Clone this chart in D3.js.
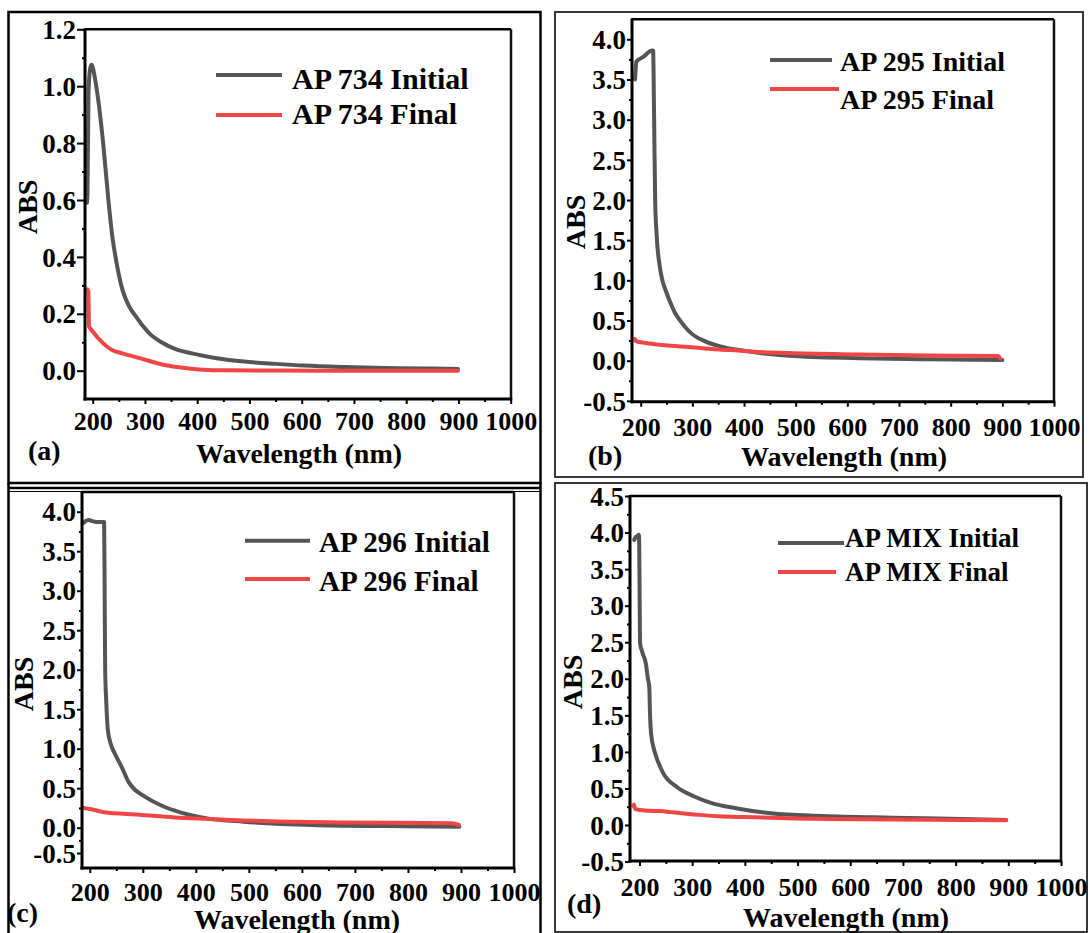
<!DOCTYPE html>
<html>
<head>
<meta charset="utf-8">
<script src="https://cdn.jsdelivr.net/npm/d3@7"></script>
<style>
  body { margin: 0; background: #fff; }
  svg { display: block; }
  text { font-family: "Liberation Serif", "Times New Roman", serif; font-weight: bold; fill: #000; }
</style>
</head>
<body>
<div id="container"></div>
<script>
/* DATA */
const xTicks = [200, 300, 400, 500, 600, 700, 800, 900, 1000]
const xMinorTicks = [250, 350, 450, 550, 650, 750, 850, 950]

const yTicksA = [0.0, 0.2, 0.4, 0.6, 0.8, 1.0, 1.2]
const yMinorA = [0.1, 0.3, 0.5, 0.7, 0.9, 1.1]
const yTicksB = [-0.5, 0.0, 0.5, 1.0, 1.5, 2.0, 2.5, 3.0, 3.5, 4.0]
const yMinorB = [-0.25, 0.25, 0.75, 1.25, 1.75, 2.25, 2.75, 3.25, 3.75]
const yTicksD = [-0.5, 0.0, 0.5, 1.0, 1.5, 2.0, 2.5, 3.0, 3.5, 4.0, 4.5]
const yMinorD = [-0.25, 0.25, 0.75, 1.25, 1.75, 2.25, 2.75, 3.25, 3.75, 4.25]

const panelLabels = ["(a)", "(b)", "(c)", "(d)"]
const namesA = ["AP 734 Initial", "AP 734 Final"]
const namesB = ["AP 295 Initial", "AP 295 Final"]
const namesC = ["AP 296 Initial", "AP 296 Final"]
const namesD = ["AP MIX Initial", "AP MIX Final"]

// [wavelength nm, absorbance]
const ap734Initial = [[189, 0.59], [190, 0.62], [192, 0.98], [195, 1.06], [198, 1.075], [201, 1.06],
  [205, 1.02], [210, 0.96], [220, 0.80], [230, 0.60], [237, 0.48], [247, 0.366], [257, 0.284],
  [270, 0.225], [285, 0.185], [297, 0.155], [312, 0.125], [330, 0.102], [360, 0.075], [390, 0.061],
  [437, 0.044], [490, 0.032], [550, 0.024], [605, 0.018], [680, 0.013], [759, 0.0095], [830, 0.008], [899, 0.006]]
const ap734Final = [[190, 0.286], [191.5, 0.28], [193, 0.155], [197, 0.145], [203, 0.131], [210, 0.115],
  [217, 0.102], [227, 0.085], [237, 0.073], [257, 0.061], [290, 0.044], [337, 0.02], [384, 0.008],
  [431, 0.002], [520, 0.001], [624, 0.0], [750, 0.0], [899, 0.0]]

const ap295Initial = [[189, 3.5], [190, 3.6], [191.5, 3.72], [205, 3.78], [222, 3.86], [224, 3.86],
  [226, 3.0], [228, 2.0], [231, 1.55], [237, 1.17], [242, 1.0], [248, 0.88], [258, 0.715], [266, 0.6],
  [275, 0.51], [286, 0.42], [298, 0.34], [325, 0.24], [366, 0.16], [400, 0.125], [440, 0.09],
  [487, 0.062], [623, 0.032], [758, 0.018], [900, 0.01]]
const ap295Final = [[189, 0.27], [190, 0.25], [192, 0.24], [200, 0.23], [224, 0.208], [285, 0.175],
  [352, 0.14], [400, 0.122], [419, 0.112], [487, 0.095], [623, 0.078], [758, 0.065], [892, 0.058], [896, 0.025]]

const ap296Initial = [[189, 3.86], [192, 3.88], [198, 3.895], [205, 3.88], [212, 3.87], [227, 3.87],
  [228, 3.0], [229, 2.0], [231, 1.6], [234, 1.24], [240, 1.05], [247, 0.94], [260, 0.77], [273, 0.58],
  [285, 0.48], [300, 0.41], [332, 0.29], [372, 0.19], [424, 0.115], [490, 0.076], [621, 0.034],
  [752, 0.02], [897, 0.013]]
const ap296Final = [[189, 0.25], [192, 0.245], [205, 0.23], [227, 0.195], [293, 0.165], [359, 0.13],
  [424, 0.11], [490, 0.092], [555, 0.08], [687, 0.066], [883, 0.056], [896, 0.035]]

const apMixInitial = [[190, 3.9], [192, 3.93], [195.5, 3.95], [199, 3.97], [200, 3.4], [201, 2.49],
  [206, 2.35], [212, 2.21], [216, 2.0], [218.5, 1.89], [220, 1.5], [222, 1.25], [227, 1.05], [232, 0.93],
  [245, 0.71], [271, 0.52], [304, 0.39], [337, 0.30], [383, 0.23], [449, 0.16], [547, 0.123],
  [679, 0.10], [811, 0.083], [896, 0.068]]
const apMixFinal = [[188, 0.26], [189.5, 0.28], [191, 0.225], [200, 0.205], [218, 0.195], [238, 0.19],
  [260, 0.176], [284, 0.158], [320, 0.135], [350, 0.12], [400, 0.108], [482, 0.092], [679, 0.075], [896, 0.065]]

/* CONSTANTS AND GLOBALS */
const width = 1089
const height = 933
const colors = ["#555555", "#f04545"]

// pixel layout of each panel
const panels = [
  { label: panelLabels[0], names: namesA, series: [ap734Initial, ap734Final], yTicks: yTicksA, yMinor: yMinorA,
    x200: 92.7, x1000: 510.7, left: 85, right: 511, top: 29.3, bottom: 399,
    yDomain: [0, 1.2], yRange: [370.7, 29.3], yTickLen: 8,
    xTickBase: 430, xTitle: [299, 463], tag: [28, 460], abs: [36.5, 207],
    leg: { x1: 216, x2: [282, 282], y: [75, 115], tx: 292, ty: [89, 124], size: 30 } },
  { label: panelLabels[1], names: namesB, series: [ap295Initial, ap295Final], yTicks: yTicksB, yMinor: yMinorB,
    x200: 640.7, x1000: 1054, left: 632, right: 1054, top: 19.3, bottom: 401.7,
    yDomain: [0, 4.0], yRange: [360.7, 39.3], yTickLen: 5,
    xTickBase: 436, xTitle: [844, 466], tag: [588, 465], abs: [585, 222],
    leg: { x1: 770, x2: [832, 839], y: [60, 89], tx: 840, ty: [70.5, 108.5], size: 28 } },
  { label: panelLabels[2], names: namesC, series: [ap296Initial, ap296Final], yTicks: yTicksB, yMinor: yMinorB,
    x200: 89.8, x1000: 514, left: 82, right: 514, top: 492, bottom: 868,
    yDomain: [-0.69, -0.5, 0, 4.0], yRange: [868, 853, 827.7, 511.7], yTickLen: 5,
    xTickBase: 901, xTitle: [297, 928.5], tag: [7, 922], abs: [33, 684],
    leg: { x1: 245, x2: [310, 310], y: [540.7, 579], tx: 319, ty: [551.5, 590.5], size: 29 } },
  { label: panelLabels[3], names: namesD, series: [apMixInitial, apMixFinal], yTicks: yTicksD, yMinor: yMinorD,
    x200: 639.5, x1000: 1061, left: 630, right: 1061, top: 496, bottom: 861,
    yDomain: [0, 4.5], yRange: [825, 496], yTickLen: 5,
    xTickBase: 896, xTitle: [846, 927], tag: [567, 913], abs: [581.5, 682],
    leg: { x1: 778, x2: [844, 836], y: [543, 572], tx: 845, ty: [546.5, 580.5], size: 27 } }
]

/* HTML ELEMENTS */
const svg = d3.select("#container")
  .append("svg")
  .attr("width", width)
  .attr("height", height)
  .style("background-color", "white")

// outer borders of the four panels
svg.append("rect")
  .attr("x", 8.5).attr("y", 12).attr("width", 532).attr("height", 471)
  .attr("fill", "none").attr("stroke", "#000").attr("stroke-width", 2.5)
svg.append("line").attr("x1", 8.5).attr("x2", 540.5).attr("y1", 488).attr("y2", 488)
  .attr("stroke", "#000").attr("stroke-width", 2.5)
svg.append("line").attr("x1", 8.5).attr("x2", 540.5).attr("y1", 491.5).attr("y2", 491.5)
  .attr("stroke", "#000").attr("stroke-width", 1.2)
svg.append("line").attr("x1", 8.5).attr("x2", 8.5).attr("y1", 483).attr("y2", 933)
  .attr("stroke", "#000").attr("stroke-width", 2.5)
svg.append("line").attr("x1", 540.5).attr("x2", 540.5).attr("y1", 483).attr("y2", 933)
  .attr("stroke", "#000").attr("stroke-width", 2.5)
svg.append("rect")
  .attr("x", 555).attr("y", 12).attr("width", 528).attr("height", 465)
  .attr("fill", "none").attr("stroke", "#222").attr("stroke-width", 1.8)
svg.append("rect")
  .attr("x", 555).attr("y", 483).attr("width", 532).attr("height", 449)
  .attr("fill", "none").attr("stroke", "#222").attr("stroke-width", 1.8)

panels.forEach(p => {
  /* SCALES */
  const xScale = d3.scaleLinear()
    .domain([200, 1000])
    .range([p.x200, p.x1000])

  const yScale = d3.scaleLinear()
    .domain(p.yDomain)
    .range(p.yRange)

  const g = svg.append("g")

  // curves
  const line = d3.line()
    .x(d => xScale(d[0]))
    .y(d => yScale(d[1]))
    .curve(d3.curveMonotoneX)

  g.selectAll("path.curve")
    .data(p.series)
    .join("path")
    .attr("class", "curve")
    .attr("d", d => line(d))
    .attr("fill", "none")
    .attr("stroke", (d, i) => colors[i])
    .attr("stroke-width", 4)
    .attr("stroke-linejoin", "round")
    .attr("stroke-linecap", "round")

  // axes
  const xAxisGroup = g.append("g")
    .attr("transform", `translate(0, ${p.bottom})`)
    .call(d3.axisBottom(xScale).tickValues(xTicks).tickSize(5).tickSizeOuter(0).tickFormat(d => d))
  xAxisGroup.select(".domain").remove()
  xAxisGroup.selectAll("line").attr("stroke-width", 2)
  xAxisGroup.selectAll("text")
    .attr("y", p.xTickBase - p.bottom)
    .attr("dy", null)
    .style("font-size", "26px")
    .style("font-family", null)

  const xMinorGroup = g.append("g")
    .attr("transform", `translate(0, ${p.bottom})`)
    .call(d3.axisBottom(xScale).tickValues(xMinorTicks).tickSize(3).tickSizeOuter(0).tickFormat(""))
  xMinorGroup.select(".domain").remove()
  xMinorGroup.selectAll("line").attr("stroke-width", 2)

  const yAxisGroup = g.append("g")
    .attr("transform", `translate(${p.left}, 0)`)
    .call(d3.axisLeft(yScale).tickValues(p.yTicks).tickSize(p.yTickLen).tickPadding(1)
      .tickSizeOuter(0).tickFormat(d => d.toFixed(1)))
  yAxisGroup.select(".domain").remove()
  yAxisGroup.selectAll("line").attr("stroke-width", 2)
  yAxisGroup.selectAll("text")
    .attr("dy", "0.34em")
    .style("font-size", "27px")
    .style("font-family", null)

  const yMinorGroup = g.append("g")
    .attr("transform", `translate(${p.left}, 0)`)
    .call(d3.axisLeft(yScale).tickValues(p.yMinor).tickSize(3).tickSizeOuter(0).tickFormat(""))
  yMinorGroup.select(".domain").remove()
  yMinorGroup.selectAll("line").attr("stroke-width", 2)

  // plot frame
  g.append("line").attr("x1", p.left).attr("x2", p.right).attr("y1", p.top).attr("y2", p.top)
    .attr("stroke", "#000").attr("stroke-width", 2.5)
  g.append("line").attr("x1", p.right).attr("x2", p.right).attr("y1", p.top).attr("y2", p.bottom)
    .attr("stroke", "#111").attr("stroke-width", 2.5)
  g.append("line").attr("x1", p.left).attr("x2", p.left).attr("y1", p.top - 1).attr("y2", p.bottom + 1.5)
    .attr("stroke", "#000").attr("stroke-width", 3)
  g.append("line").attr("x1", p.left - 1.5).attr("x2", p.right + 1.2).attr("y1", p.bottom).attr("y2", p.bottom)
    .attr("stroke", "#000").attr("stroke-width", 3)

  // axis titles
  g.append("text")
    .attr("x", p.xTitle[0]).attr("y", p.xTitle[1])
    .attr("text-anchor", "middle")
    .style("font-size", "28px")
    .text("Wavelength (nm)")

  g.append("text")
    .attr("transform", `translate(${p.abs[0]}, ${p.abs[1]}) rotate(-90)`)
    .attr("text-anchor", "middle")
    .style("font-size", "28px")
    .text("ABS")

  g.append("text")
    .attr("x", p.tag[0]).attr("y", p.tag[1])
    .style("font-size", "28px")
    .text(p.label)

  // legend
  const legend = g.selectAll("g.legend")
    .data(p.names)
    .join("g")
    .attr("class", "legend")

  legend.append("line")
    .attr("x1", p.leg.x1)
    .attr("x2", (d, i) => p.leg.x2[i])
    .attr("y1", (d, i) => p.leg.y[i])
    .attr("y2", (d, i) => p.leg.y[i])
    .attr("stroke", (d, i) => colors[i])
    .attr("stroke-width", 4)

  legend.append("text")
    .attr("x", p.leg.tx)
    .attr("y", (d, i) => p.leg.ty[i])
    .style("font-size", p.leg.size + "px")
    .text(d => d)
})
</script>
</body>
</html>
